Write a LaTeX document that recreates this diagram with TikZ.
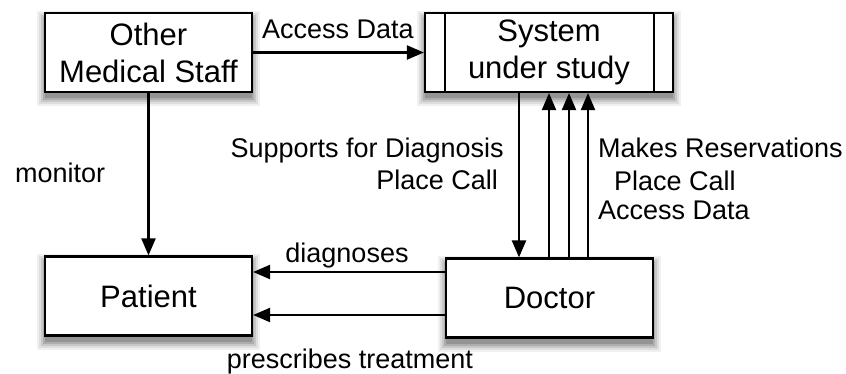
\documentclass[tikz,border=0pt]{standalone}
\usepackage{fontspec}
\setmainfont{Liberation Sans}
\usetikzlibrary{arrows.meta,backgrounds}
\newcommand{\boxshade}[1]{%
  \foreach \sx/\sy/\nx/\ny/\c in {-7/-13/7/1/6, -5/-11/5/-1/13, -3/-9/3/-3/22, -1/-7/1/-5/32, 1/-5/-1/-7/42}{
    \fill[black!\c] ([xshift=\sx pt,yshift=\sy pt]#1.south west) rectangle ([xshift=\nx pt,yshift=\ny pt]#1.north east);
  }}
\begin{document}
\begin{tikzpicture}[x=1pt,y=-1pt,
  box/.style={draw=black, line width=2.2pt, fill=white, minimum width=207pt, minimum height=79pt,
    inner sep=0pt, align=center, font=\fontsize{31}{37}\selectfont},
  lbl/.style={inner sep=0pt, font=\fontsize{27}{32}\selectfont},
  arr/.style={line width=2.2pt, -{Triangle[length=17pt,width=14pt]}}]
\useasboundingbox (0,0) rectangle (846,374);

\node[box] (oms) at (148.5,52.5) {Other\\Medical Staff};
\node[box, minimum width=248pt] (sys) at (549,52.5) {System\\under study};
\node[box] (pat) at (148.5,296) {Patient};
\node[box] (doc) at (549.5,298) {Doctor};

\begin{scope}[on background layer]
  \fill[white] (0,0) rectangle (846,374);
  \boxshade{oms}
  \boxshade{sys}
  \boxshade{pat}
  \boxshade{doc}
\end{scope}

\draw[line width=2.2pt] ([xshift=21pt]sys.north west) -- ([xshift=21pt]sys.south west);
\draw[line width=2.2pt] ([xshift=-20pt]sys.north east) -- ([xshift=-20pt]sys.south east);

\coordinate (d1) at ([xshift=-30pt]sys.south);
\coordinate (u1) at ([xshift=0pt]sys.south);
\coordinate (u2) at ([xshift=20pt]sys.south);
\coordinate (u3) at ([xshift=39pt]sys.south);

\draw[arr] (oms.east) -- (sys.west);
\draw[arr] (oms.south) -- (pat.north);
\draw[arr] (d1) -- (d1 |- doc.north);
\draw[arr] (u1 |- doc.north) -- (u1);
\draw[arr] (u2 |- doc.north) -- (u2);
\draw[arr] (u3 |- doc.north) -- (u3);

\coordinate (dg) at ([yshift=26pt]doc.west);
\coordinate (pr) at ([yshift=-17pt]doc.west);
\draw[arr] (dg) -- (dg -| pat.east);
\draw[arr] (pr) -- (pr -| pat.east);

\node[lbl, anchor=base] (la) at (338,39) {Access Data};
\node[lbl, anchor=base west] (lm) at (15,183) {monitor};
\node[lbl, anchor=base east] (ls1) at (504,158) {Supports for Diagnosis};
\node[lbl, anchor=base east] (ls2) at (498,190) {Place Call};
\node[lbl, anchor=base west] (lr1) at (598,158) {Makes Reservations};
\node[lbl, anchor=base west] (lr2) at (614,191) {Place Call};
\node[lbl, anchor=base west] (lr3) at (598,220) {Access Data};
\node[lbl, anchor=base] (ld) at (347,262) {diagnoses};
\node[lbl, anchor=base] (lp) at (350,368) {prescribes treatment};
\end{tikzpicture}
\end{document}
